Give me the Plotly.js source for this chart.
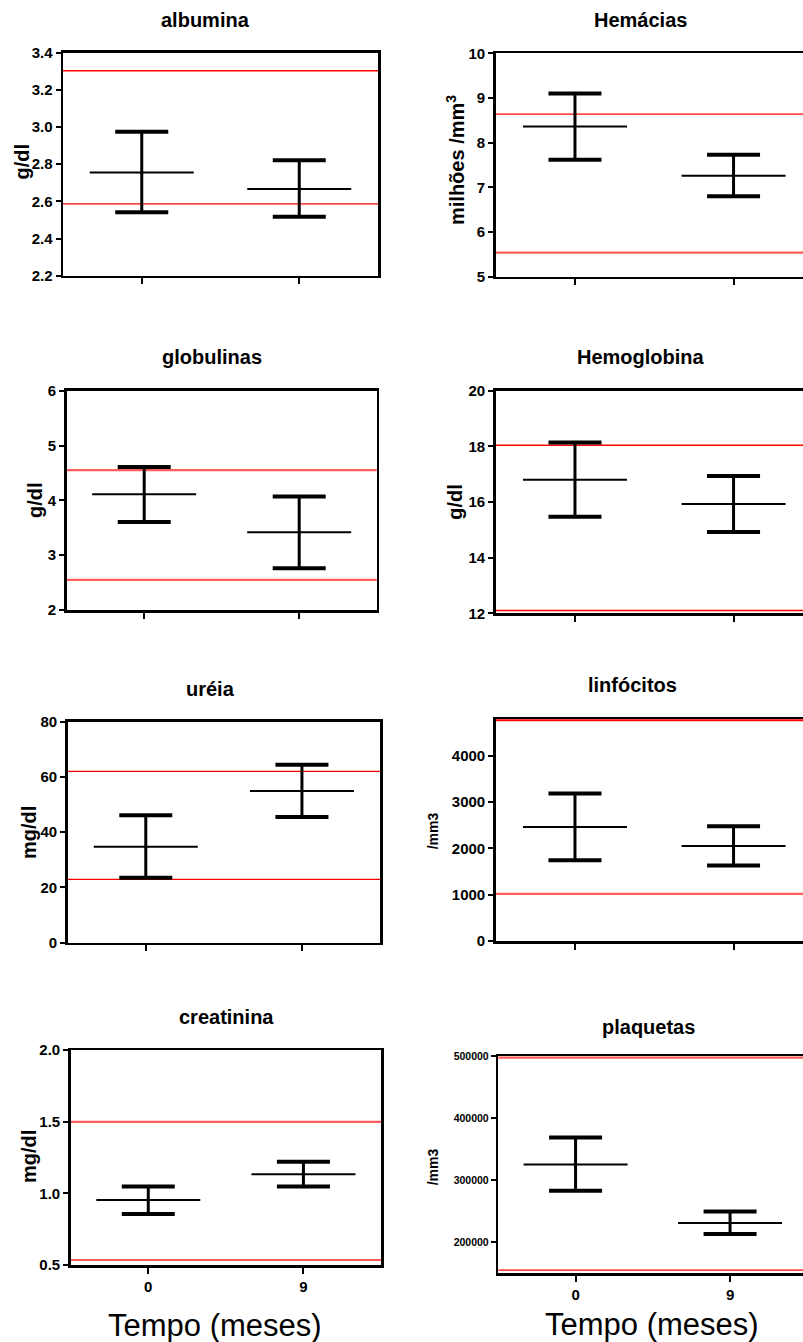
<!DOCTYPE html>
<html><head><meta charset="utf-8">
<script src="https://cdn.plot.ly/plotly-3.0.1.min.js"></script>
<style>html,body{margin:0;padding:0;background:#fff}#chart{width:803px;height:1342px}</style>
</head><body><div id="chart"></div>
<script>
const categories = ['0', '9'];
const panelTitles = ['albumina', 'Hemácias', 'globulinas', 'Hemoglobina', 'uréia', 'linfócitos', 'creatinina', 'plaquetas'];
const yTitles = ['g/dl', 'milhões /mm<sup>3</sup>', 'g/dl', 'g/dl', 'mg/dl', '/mm3', 'mg/dl', '/mm3'];
const xTitle = 'Tempo (meses)';

const albuminaMean = [2.756, 2.666], albuminaUpper = [2.975, 2.821], albuminaLower = [2.541, 2.517], albuminaRef = [3.303, 2.586];
const hemaciasMean = [8.36, 7.26], hemaciasUpper = [9.10, 7.73], hemaciasLower = [7.62, 6.80], hemaciasRef = [8.64, 5.54];
const globulinasMean = [4.11, 3.42], globulinasUpper = [4.61, 4.07], globulinasLower = [3.605, 2.76], globulinasRef = [4.55, 2.55];
const hemoglobinaMean = [16.80, 15.93], hemoglobinaUpper = [18.14, 16.93], hemoglobinaLower = [15.47, 14.92], hemoglobinaRef = [18.04, 12.10];
const ureiaMean = [34.7, 54.9], ureiaUpper = [46.1, 64.4], ureiaLower = [23.5, 45.5], ureiaRef = [62.0, 22.9];
const linfocitosMean = [2460, 2053], linfocitosUpper = [3184, 2475], linfocitosLower = [1745, 1630], linfocitosRef = [4760, 1020];
const creatininaMean = [0.953, 1.133], creatininaUpper = [1.047, 1.221], creatininaLower = [0.856, 1.047], creatininaRef = [1.498, 0.535];
const plaquetasMean = [325400, 231000], plaquetasUpper = [368800, 249700], plaquetasLower = [283100, 213500], plaquetasRef = [497300, 155000];

const W = 803, H = 1342;
const FONT = 'Liberation Sans, Arial, Helvetica, sans-serif';
const THIN = {color: '#ff0000', width: 1.3};
const THICK = {color: '#ff5c5c', width: 2.2};
// line-ew symbol length is 1.4 x marker size
const MEAN_SIZE = 104 / 1.4, CAP_SIZE = 53 / 1.4;

const panels = [
  {mean: albuminaMean, up: albuminaUpper, lo: albuminaLower, ref: albuminaRef, px: [63, 378], py: [52.7, 275.7], xr: [-0.5, 1.5], yr: [2.2, 3.4], dtick: 0.2, fmt: '.1f', tfs: 15, right: true, refStyle: [THIN, THIN], title: [205, 20], ytitle: [21.7, 161.7], ytfs: 20, bottom: false},
  {mean: hemaciasMean, up: hemaciasUpper, lo: hemaciasLower, ref: hemaciasRef, px: [495.7, 803], py: [53.3, 276.7], xr: [-0.5, 1.438], yr: [5, 10], dtick: 1, fmt: 'd', tfs: 15, right: false, refStyle: [THIN, THICK], title: [640.7, 20], ytitle: [455, 160], ytfs: 20, bottom: false},
  {mean: globulinasMean, up: globulinasUpper, lo: globulinasLower, ref: globulinasRef, px: [66.7, 376.7], py: [390.7, 610], xr: [-0.5, 1.5], yr: [2, 6], dtick: 1, fmt: 'd', tfs: 15, right: true, refStyle: [THICK, THICK], title: [212, 357], ytitle: [35, 500], ytfs: 20, bottom: false},
  {mean: hemoglobinaMean, up: hemoglobinaUpper, lo: hemoglobinaLower, ref: hemoglobinaRef, px: [495.7, 803], py: [390.7, 613.3], xr: [-0.5, 1.438], yr: [12, 20], dtick: 2, fmt: 'd', tfs: 15, right: false, refStyle: [THIN, THIN], title: [640.7, 356.7], ytitle: [455, 501.7], ytfs: 20, bottom: false},
  {mean: ureiaMean, up: ureiaUpper, lo: ureiaLower, ref: ureiaRef, px: [67.7, 380], py: [721.7, 942.7], xr: [-0.5, 1.5], yr: [0, 80], dtick: 20, fmt: 'd', tfs: 15, right: true, refStyle: [THIN, THIN], title: [210.7, 689.3], ytitle: [28.3, 832.7], ytfs: 20, bottom: false},
  {mean: linfocitosMean, up: linfocitosUpper, lo: linfocitosLower, ref: linfocitosRef, px: [495.7, 803], py: [719, 941.2], xr: [-0.5, 1.438], yr: [0, 4787], dtick: 1000, fmt: 'd', tfs: 15, right: false, refStyle: [{color: '#ff0000', width: 2.2}, THICK], title: [632.3, 685], ytitle: [433.3, 831], ytfs: 14, bottom: false},
  {mean: creatininaMean, up: creatininaUpper, lo: creatininaLower, ref: creatininaRef, px: [70.7, 381], py: [1050, 1265], xr: [-0.5, 1.5], yr: [0.5, 2.0], dtick: 0.5, fmt: '.1f', tfs: 15, right: true, refStyle: [THICK, THICK], title: [226.7, 1017.3], ytitle: [28.3, 1156.7], ytfs: 20, bottom: true, xt: [215, 1325]},
  {mean: plaquetasMean, up: plaquetasUpper, lo: plaquetasLower, ref: plaquetasRef, px: [498.3, 803], py: [1056, 1273.3], xr: [-0.5, 1.472], yr: [150000, 500000], dtick: 100000, fmt: 'd', tfs: 10.5, right: false, refStyle: [THICK, THIN], title: [648.3, 1026.7], ytitle: [433, 1167.3], ytfs: 14, bottom: true, xt: [651.7, 1324]}
];

const data = [];
const layout = {
  width: W, height: H, margin: {l: 0, r: 0, t: 0, b: 0},
  paper_bgcolor: '#fff', plot_bgcolor: 'rgba(0,0,0,0)',
  showlegend: false, shapes: [], annotations: [],
  font: {family: FONT, color: '#000', weight: 'bold'}
};

panels.forEach((p, i) => {
  const n = i + 1;
  const xa = 'x' + (n === 1 ? '' : n), ya = 'y' + (n === 1 ? '' : n);
  const xk = 'xaxis' + (n === 1 ? '' : n), yk = 'yaxis' + (n === 1 ? '' : n);
  layout[xk] = {
    domain: [p.px[0] / W, Math.min(1, p.px[1] / W)], anchor: ya, type: 'category',
    range: p.xr, showgrid: false, zeroline: false, showline: true, linecolor: '#000', linewidth: 2.5,
    mirror: true, ticks: 'outside', ticklen: 6, tickwidth: 2, tickcolor: '#000',
    showticklabels: p.bottom, tickfont: {family: FONT, size: 15, weight: 'bold', color: '#000'}, fixedrange: true
  };
  layout[yk] = {
    domain: [1 - p.py[1] / H, 1 - p.py[0] / H], anchor: xa, range: p.yr, dtick: p.dtick, tick0: 0,
    tickformat: p.fmt, showgrid: false, zeroline: false, showline: true, linecolor: '#000', linewidth: 2.5,
    mirror: p.right, ticks: 'outside', ticklen: 5, tickwidth: 2, tickcolor: '#000',
    tickfont: {family: FONT, size: p.tfs, weight: 'bold', color: '#000'}, fixedrange: true
  };
  p.ref.forEach((v, k) => {
    layout.shapes.push({type: 'line', xref: xa + ' domain', x0: 0, x1: 1, yref: ya, y0: v, y1: v, line: p.refStyle[k], layer: 'below'});
  });
  // mean line + stem
  data.push({
    type: 'scatter', mode: 'markers', x: categories, y: p.mean, xaxis: xa, yaxis: ya, cliponaxis: false,
    marker: {symbol: 'line-ew', size: MEAN_SIZE, color: '#000', line: {color: '#000', width: 2}},
    error_y: {type: 'data', symmetric: false, array: p.up.map((u, j) => u - p.mean[j]), arrayminus: p.mean.map((m, j) => m - p.lo[j]), color: '#000', thickness: 3, width: 0},
    hoverinfo: 'skip'
  });
  // caps
  data.push({
    type: 'scatter', mode: 'markers', x: categories.concat(categories), y: p.up.concat(p.lo), xaxis: xa, yaxis: ya, cliponaxis: false,
    marker: {symbol: 'line-ew', size: CAP_SIZE, color: '#000', line: {color: '#000', width: 4}},
    hoverinfo: 'skip'
  });
  layout.annotations.push({text: panelTitles[i], xref: 'paper', yref: 'paper', x: p.title[0] / W, y: 1 - p.title[1] / H,
    xanchor: 'center', yanchor: 'middle', showarrow: false, font: {family: FONT, size: 20, weight: 'bold', color: '#000'}});
  layout.annotations.push({text: yTitles[i], xref: 'paper', yref: 'paper', x: p.ytitle[0] / W, y: 1 - p.ytitle[1] / H,
    xanchor: 'center', yanchor: 'middle', textangle: -90, showarrow: false, font: {family: FONT, size: p.ytfs, weight: 'bold', color: '#000'}});
  if (p.bottom) {
    layout.annotations.push({text: xTitle, xref: 'paper', yref: 'paper', x: p.xt[0] / W, y: 1 - p.xt[1] / H,
      xanchor: 'center', yanchor: 'middle', showarrow: false, font: {family: FONT, size: 31, weight: 'normal', color: '#000'}});
  }
});

Plotly.newPlot('chart', data, layout, {staticPlot: true, displayModeBar: false});
</script>
</body></html>
